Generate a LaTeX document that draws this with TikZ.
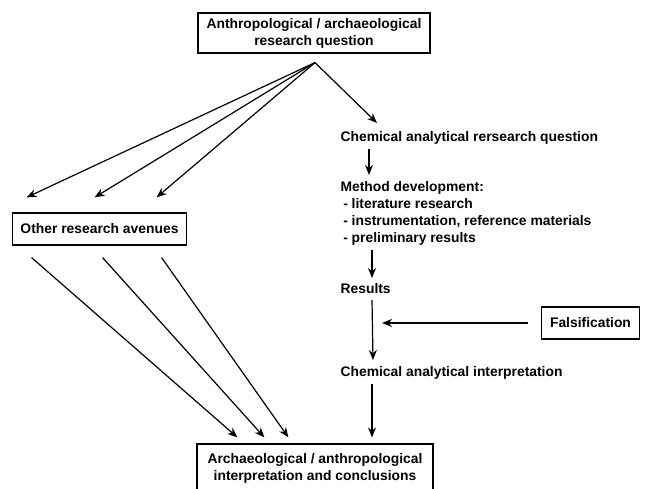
\documentclass[tikz,border=0pt]{standalone}
\usepackage{fontspec}
\setmainfont{Liberation Sans}
\usetikzlibrary{arrows.meta, positioning}

\begin{document}
\begin{tikzpicture}[x=0.75pt,y=-0.75pt, line width=0.9pt,
    box/.style={draw, font=\bfseries\fontsize{10.4}{12.75}\selectfont, align=center, inner sep=0pt},
    txt/.style={font=\bfseries\fontsize{10.4}{12.75}\selectfont, align=left, inner sep=0pt, anchor=west},
    arr/.style={-{Stealth[length=7.5pt,width=6pt]}}]
\useasboundingbox (0,0) rectangle (648,488);
% boxes
\node [box, minimum width=174pt, minimum height=30pt] (quest) at (314,33) {Anthropological / archaeological\\research question};
\node [box, minimum width=131pt, minimum height=24pt] (other) at (99.5,229) {Other research avenues};
\node [box, minimum width=74pt, minimum height=24pt] (fals) at (590.5,323) {Falsification};
\node [box, minimum width=177pt, minimum height=36pt] (final) at (315,468) {Archaeological / anthropological\\interpretation and conclusions};
% chemical analytical branch
\node [txt] (chemq) at (340,138) {Chemical analytical rersearch question};
\node [txt] (method) at (340,213.5) {Method development:\\\hspace{2pt}- literature research\\\hspace{2pt}- instrumentation, reference materials\\\hspace{2pt}- preliminary results};
\node [txt] (results) at (340,289) {Results};
\node [txt] (interp) at (340,373) {Chemical analytical interpretation};
\coordinate (apex) at ([xshift=0.75pt,yshift=-6.75pt]quest.south);
\coordinate (fx) at ([xshift=31.5pt]results.west);
% arrows from the question
\draw [arr] (apex) -- ([xshift=11.25pt,yshift=11.25pt]other.north west);
\draw [arr] (apex) -- ([xshift=62.25pt,yshift=11.25pt]other.north west);
\draw [arr] (apex) -- ([xshift=108.75pt,yshift=11.25pt]other.north west);
\draw [arr] (apex) -- ([xshift=27.75pt,yshift=11.25pt]chemq.west);
% other avenues to conclusions
\draw [arr] ([xshift=15pt,yshift=-9pt]other.south west) -- ([xshift=30.75pt,yshift=4.5pt]final.north west);
\draw [arr] ([xshift=68.25pt,yshift=-9pt]other.south west) -- ([xshift=51pt,yshift=4.5pt]final.north west);
\draw [arr] ([xshift=112.5pt,yshift=-9pt]other.south west) -- ([xshift=69pt,yshift=4.5pt]final.north west);
% down the chemical column
\draw [arr] ([xshift=21.75pt,yshift=-8.25pt]chemq.west) -- ([xshift=21.75pt,yshift=28.9pt]method.west);
\draw [arr] ([xshift=24pt,yshift=-27.4pt]method.west) -- ([xshift=24pt,yshift=8.25pt]results.west);
\draw [arr] ([xshift=24pt,yshift=-8.25pt]results.west) -- ([xshift=24.75pt,yshift=9.75pt]interp.west);
\draw [arr] ([xshift=24pt,yshift=-8.25pt]interp.west) -- ([xshift=42.75pt,yshift=4.5pt]final.north);
\draw [arr] ([xshift=-9.75pt]fals.west) -- (fx |- fals.west);
\end{tikzpicture}
\end{document}
